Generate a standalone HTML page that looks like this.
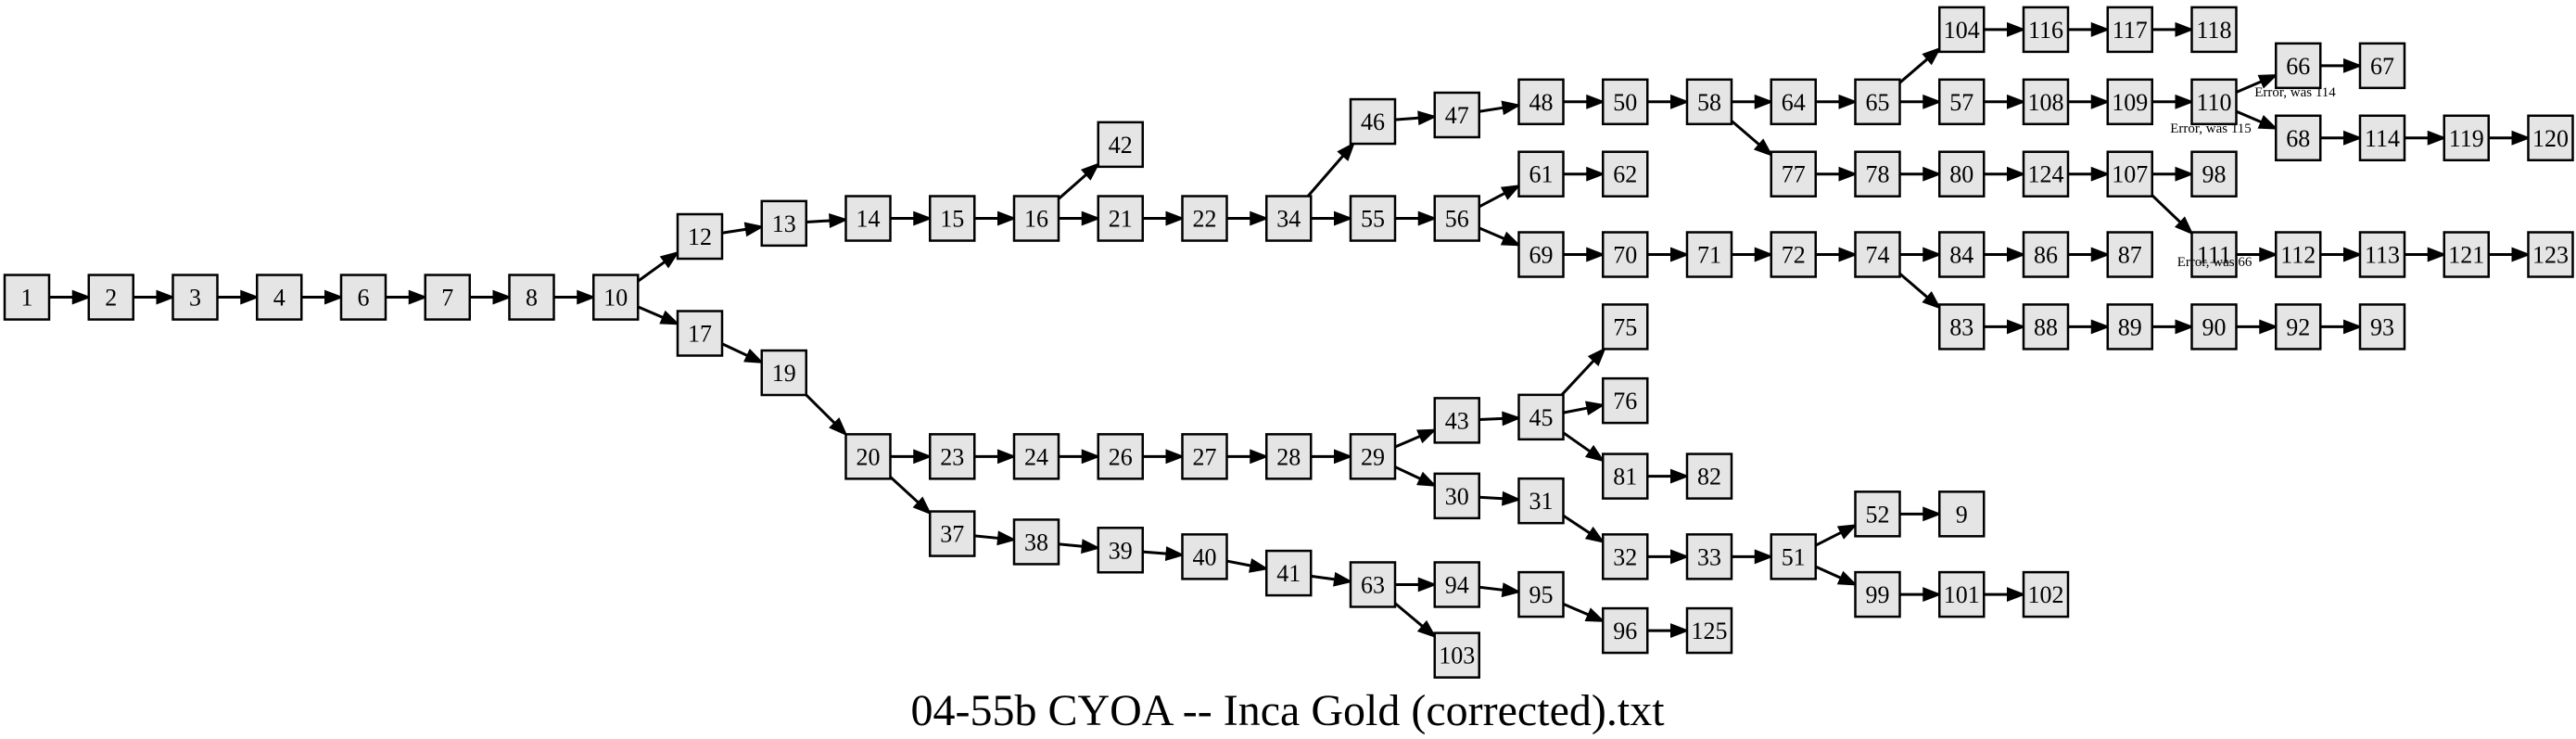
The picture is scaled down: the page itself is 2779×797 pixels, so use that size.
<!DOCTYPE html>
<html><head><meta charset="utf-8"><style>
body{margin:0;background:#fff;width:2779px;height:797px;overflow:hidden}
svg{display:block}
</style></head><body>
<svg id="s" width="2779" height="797" xmlns="http://www.w3.org/2000/svg">
<text x="1389" y="782" font-family="Liberation Serif, serif" font-size="48" text-anchor="middle">04-55b CYOA -- Inca Gold (corrected).txt</text>
<text x="2476" y="104" font-family="Liberation Serif, serif" font-size="15" text-anchor="middle">Error, was 114</text>
<text x="2385" y="143" font-family="Liberation Serif, serif" font-size="15" text-anchor="middle">Error, was 115</text>
<text x="2389" y="287" font-family="Liberation Serif, serif" font-size="15" text-anchor="middle">Error, was 66</text>
</svg>
<script>
var N={
1:[0,181],2:[1,181],3:[2,181],4:[3,181],6:[4,181],7:[5,181],8:[6,181],10:[7,181],
12:[8,144],17:[8,203],13:[9,136],19:[9,227],14:[10,133],20:[10,278],15:[11,133],23:[11,278],
16:[12,133],24:[12,278],37:[11,325],42:[13,88],21:[13,133],26:[13,278],38:[12,330],22:[14,133],27:[14,278],39:[13,335],
34:[15,133],28:[15,278],40:[14,339],46:[16,74],55:[16,133],29:[16,278],41:[15,349],
47:[17,70],56:[17,133],43:[17,256],30:[17,302],63:[16,356],94:[17,356],103:[17,399],
48:[18,62],61:[18,106],69:[18,155],45:[18,254],31:[18,305],95:[18,362],
50:[19,62],62:[19,106],70:[19,155],75:[19,199],76:[19,244],81:[19,290],32:[19,339],96:[19,384],
58:[20,62],71:[20,155],82:[20,290],33:[20,339],125:[20,384],
64:[21,62],77:[21,106],72:[21,155],51:[21,339],
65:[22,62],78:[22,106],74:[22,155],52:[22,313],99:[22,362],
104:[23,18],57:[23,62],80:[23,106],84:[23,155],83:[23,199],9:[23,313],101:[23,362],
116:[24,18],108:[24,62],124:[24,106],86:[24,155],88:[24,199],102:[24,362],
117:[25,18],109:[25,62],107:[25,106],87:[25,155],89:[25,199],
118:[26,18],110:[26,62],98:[26,106],111:[26,155],90:[26,199],
66:[27,40],68:[27,84],112:[27,155],92:[27,199],
67:[28,40],114:[28,84],113:[28,155],93:[28,199],
119:[29,84],121:[29,155],120:[30,84],123:[30,155]};
var E="1-2,2-3,3-4,4-6,6-7,7-8,8-10,10-12,10-17,12-13,13-14,14-15,15-16,16-42,16-21,21-22,22-34,34-46,34-55,46-47,47-48,48-50,50-58,58-64,58-77,64-65,65-104,65-57,104-116,116-117,117-118,57-108,108-109,109-110,110-66,110-68,66-67,68-114,114-119,119-120,77-78,78-80,80-124,124-107,107-98,107-111,111-112,112-113,113-121,121-123,55-56,56-61,56-69,61-62,69-70,70-71,71-72,72-74,74-84,74-83,84-86,86-87,83-88,88-89,89-90,90-92,92-93,17-19,19-20,20-23,20-37,23-24,24-26,26-27,27-28,28-29,29-43,29-30,43-45,45-75,45-76,45-81,81-82,30-31,31-32,32-33,33-51,51-52,51-99,52-9,99-101,101-102,37-38,38-39,39-40,40-41,41-63,63-94,63-103,94-95,95-96,96-125";
var s=document.getElementById('s'),h='';var H=24;
function P(k){var n=N[k];return [29+n[0]*90.75,n[1]*1.771];}
function clip(cx,cy,dx,dy){var t=Math.min(dx?H/Math.abs(dx):1e9,dy?H/Math.abs(dy):1e9);return [cx+dx*t,cy+dy*t];}
E.split(',').forEach(function(e){var p=e.split('-'),a=P(p[0]),b=P(p[1]);var dx=b[0]-a[0],dy=b[1]-a[1],L=Math.hypot(dx,dy);
var s0=clip(a[0],a[1],dx,dy),e0=clip(b[0],b[1],-dx,-dy);var ux=dx/L,uy=dy/L;var bx=e0[0]-ux*17,by=e0[1]-uy*17;
h+='<line x1="'+s0[0]+'" y1="'+s0[1]+'" x2="'+bx+'" y2="'+by+'" stroke="#000" stroke-width="3"/>';
h+='<polygon points="'+e0[0]+','+e0[1]+' '+(bx-uy*6.5)+','+(by+ux*6.5)+' '+(bx+uy*6.5)+','+(by-ux*6.5)+'" fill="#000" stroke="#000" stroke-width="2"/>';});
for(var k in N){var c=P(k);h+='<rect x="'+(c[0]-H)+'" y="'+(c[1]-H)+'" width="48" height="48" fill="#e5e5e5" stroke="#000" stroke-width="2.5"/>';
h+='<text x="'+c[0]+'" y="'+(c[1]+9)+'" font-family="Liberation Serif, serif" font-size="26" text-anchor="middle">'+k+'</text>';}
s.insertAdjacentHTML('afterbegin',h);
</script>
</body></html>
